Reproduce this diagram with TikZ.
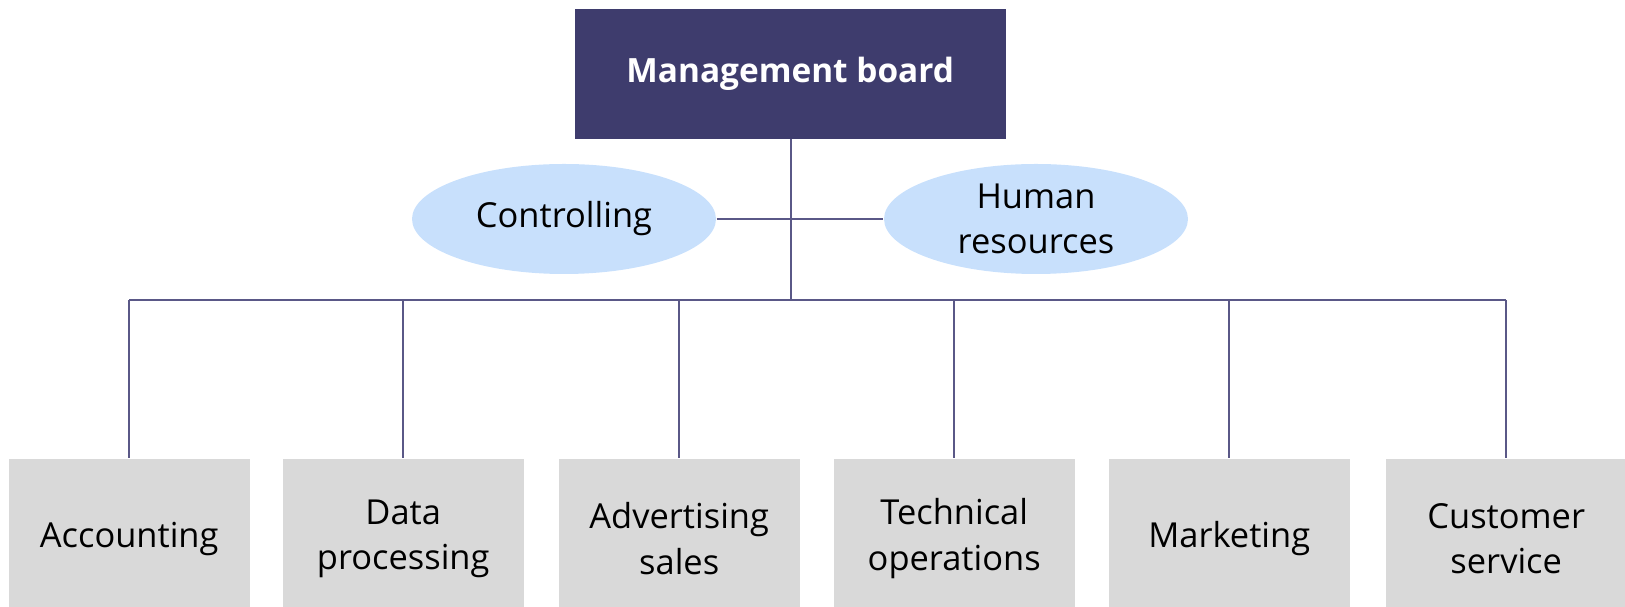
\documentclass[tikz,border=0pt]{standalone}
\usepackage{fontspec}
\setmainfont{Open Sans}
\usepackage{tikz}
\usetikzlibrary{positioning,shapes.geometric}
\definecolor{navy}{HTML}{3E3C6D}
\definecolor{sky}{HTML}{C8E0FC}
\definecolor{cgray}{HTML}{D9D9D9}
\definecolor{wire}{HTML}{5A5887}
\tikzset{
  board/.style={draw=none, fill=navy, text=white, font=\fontsize{9.5}{13}\selectfont\bfseries, align=center, minimum width=4.31cm, minimum height=1.30cm, anchor=north west},
  staff/.style={ellipse, draw=none, fill=sky, inner sep=0pt, align=center, minimum width=3.04cm, minimum height=1.10cm},
  dept/.style={draw=none, fill=cgray, align=center, minimum width=2.41cm, minimum height=1.60cm, anchor=north west},
  link/.style={draw=wire, line width=0.5pt},
}

\begin{document}
\begin{tikzpicture}[font=\fontsize{9.8}{13}\selectfont]
  \useasboundingbox (0,0) rectangle (16.25,-6.07);
  % top
  \node[board](mb) at (5.74,-0.08){Management board};
  % staff units
  \node[staff](ctl) at (5.64,-2.19){Controlling};
  \node[staff](hr) at (10.36,-2.19){Human\\resources};
  % departments
  \node[dept](acc) at (0.08,-4.58){Accounting};
  \node[dept](dat) at (2.82,-4.58){Data\\processing};
  \node[dept](adv) at (5.58,-4.58){Advertising\\sales};
  \node[dept](tec) at (8.33,-4.58){Technical\\operations};
  \node[dept](mkt) at (11.08,-4.58){Marketing};
  \node[dept](cus) at (13.85,-4.58){Customer\\service};
  % lines
  \coordinate (bus) at (7.91,-3.0);
  \draw[link] (mb.south -| bus) -- (bus);
  \draw[link] (ctl.east) -- (hr.west);
  \draw[link] (acc.north |- bus) -- (cus.north |- bus);
  \foreach \d in {acc,dat,adv,tec,mkt,cus}
    \draw[link] (\d.north |- bus) -- (\d.north);
\end{tikzpicture}
\end{document}
